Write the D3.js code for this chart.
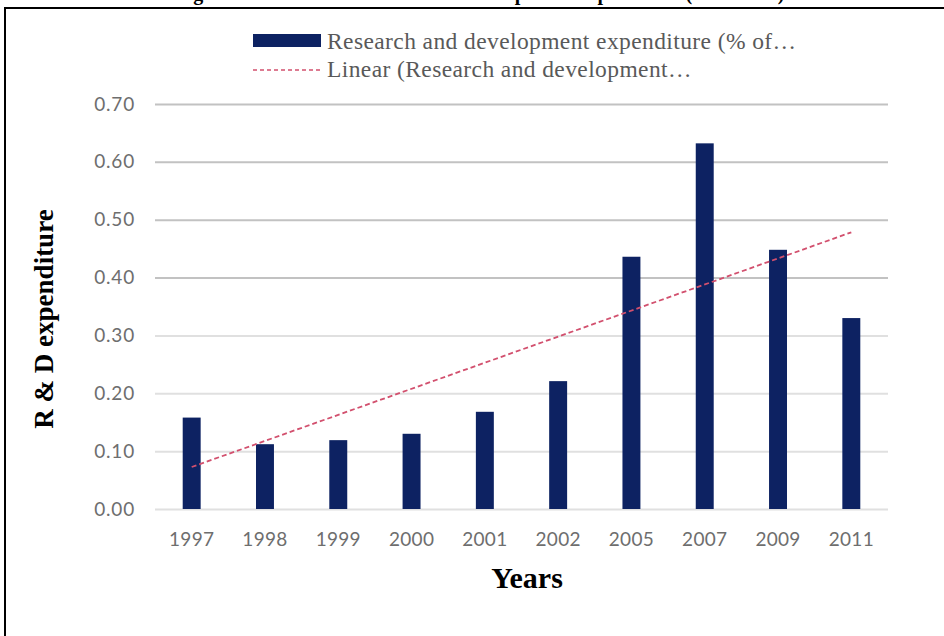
<!DOCTYPE html>
<html>
<head>
<meta charset="utf-8">
<script src="https://cdn.jsdelivr.net/npm/d3@7"></script>
<style>
  html, body { margin: 0; padding: 0; background: #fff; }
  svg { display: block; }
</style>
</head>
<body>
<svg id="chart" width="944" height="636"></svg>
<script>
const years = ["1997", "1998", "1999", "2000", "2001", "2002", "2005", "2007", "2009", "2011"];
const rdValues = [0.158, 0.112, 0.119, 0.130, 0.168, 0.221, 0.436, 0.632, 0.448, 0.330];
const yTicks = [0, 0.1, 0.2, 0.3, 0.4, 0.5, 0.6, 0.7];
const titleText = "Figure 1: Trend of Research and Development Expenditure (1997-2011)";
const legendLabels = ["Research and development expenditure (% of\u2026", "Linear (Research and development\u2026"];
const xTitle = "Years";
const yTitle = "R & D expenditure";

const svg = d3.select("#chart");
const W = 944, H = 636;
const margin = { left: 155, right: 56, top: 104, bottom: 127 };

const x = d3.scaleBand().domain(years).range([margin.left, W - margin.right]).paddingInner(0.755).paddingOuter(0.378);
const y = d3.scaleLinear().domain([0, 0.7]).range([H - margin.bottom, margin.top]);

// clipped title above frame
svg.append("text")
  .attr("x", 480).attr("y", 0)
  .attr("text-anchor", "middle")
  .attr("font-family", "'Liberation Serif', 'Times New Roman', serif")
  .attr("font-weight", "bold")
  .attr("font-size", 20)
  .attr("fill", "#000")
  .text(titleText);

// frame
svg.append("rect")
  .attr("x", 5).attr("y", 8).attr("width", 950).attr("height", 650)
  .attr("fill", "#fff").attr("stroke", "#000").attr("stroke-width", 2);

// gridlines
const grid = svg.append("g")
  .attr("transform", `translate(${margin.left},0)`)
  .call(d3.axisLeft(y).tickValues(yTicks).tickSize(-(W - margin.left - margin.right)).tickFormat(""));
grid.select(".domain").remove();
grid.selectAll(".tick line")
  .attr("stroke", d => d >= 0.4 ? "#c2c2c2" : "#e0e0e0")
  .attr("stroke-width", 2);

// y tick labels
const yAxis = svg.append("g")
  .attr("transform", `translate(135,0)`)
  .call(d3.axisLeft(y).tickValues(yTicks).tickSize(0).tickFormat(d3.format(".2f")));
yAxis.select(".domain").remove();
yAxis.selectAll("text")
  .attr("font-family", "Lato, 'Open Sans', sans-serif")
  .attr("font-size", 19)
  .attr("letter-spacing", 0.8)
  .attr("fill", "#6e6e6e")
  .attr("x", 0);

// bars
svg.append("g").selectAll("rect")
  .data(years.map((yr, i) => ({ yr, v: rdValues[i] })))
  .join("rect")
  .attr("x", d => x(d.yr))
  .attr("y", d => y(d.v))
  .attr("width", x.bandwidth())
  .attr("height", d => y(0) - y(d.v))
  .attr("fill", "#0d2262");

// x tick labels
const xAxis = svg.append("g")
  .attr("transform", `translate(0,${H - margin.bottom})`)
  .call(d3.axisBottom(x).tickSize(0).tickPadding(24));
xAxis.select(".domain").remove();
xAxis.selectAll("text")
  .attr("font-family", "Lato, 'Open Sans', sans-serif")
  .attr("font-size", 19)
  .attr("letter-spacing", 0.3)
  .attr("fill", "#6e6e6e");

// linear trendline (least-squares fit over category index, as spreadsheet trendline)
const n = rdValues.length;
const idx = d3.range(1, n + 1);
const mx = d3.mean(idx), my = d3.mean(rdValues);
const slope = d3.sum(idx, (t, i) => (t - mx) * (rdValues[i] - my)) / d3.sum(idx, t => (t - mx) ** 2);
const intercept = my - slope * mx;
const trend = [0, n - 1].map(i => ({ yr: years[i], v: intercept + slope * (i + 1) }));
svg.append("path")
  .datum(trend)
  .attr("d", d3.line().x(d => x(d.yr) + x.bandwidth() / 2).y(d => y(d.v)))
  .attr("fill", "none")
  .attr("stroke", "#d2506e")
  .attr("stroke-width", 1.8)
  .attr("stroke-dasharray", "5,3");

// axis titles
svg.append("text")
  .attr("x", 527).attr("y", 588)
  .attr("text-anchor", "middle")
  .attr("font-family", "'Liberation Serif', 'Times New Roman', serif")
  .attr("font-weight", "bold")
  .attr("font-size", 30)
  .attr("fill", "#000")
  .text(xTitle);

svg.append("text")
  .attr("transform", "translate(53,319) rotate(-90)")
  .attr("text-anchor", "middle")
  .attr("font-family", "'Liberation Serif', 'Times New Roman', serif")
  .attr("font-weight", "bold")
  .attr("font-size", 27)
  .attr("fill", "#000")
  .text(yTitle);

// legend
const lg = svg.append("g");
lg.append("rect")
  .attr("x", 253).attr("y", 34).attr("width", 68).attr("height", 13)
  .attr("fill", "#0d2262");
lg.append("text")
  .attr("x", 327).attr("y", 49)
  .attr("font-family", "'Liberation Serif', 'Times New Roman', serif")
  .attr("font-size", 23.5)
  .attr("letter-spacing", 0.4)
  .attr("fill", "#595959")
  .text(legendLabels[0]);
lg.append("line")
  .attr("x1", 253).attr("x2", 321).attr("y1", 70).attr("y2", 70)
  .attr("stroke", "#d2506e").attr("stroke-width", 1.4).attr("stroke-dasharray", "4,3");
lg.append("text")
  .attr("x", 327).attr("y", 77)
  .attr("font-family", "'Liberation Serif', 'Times New Roman', serif")
  .attr("font-size", 23.5)
  .attr("letter-spacing", 0.4)
  .attr("fill", "#595959")
  .text(legendLabels[1]);
</script>
</body>
</html>
